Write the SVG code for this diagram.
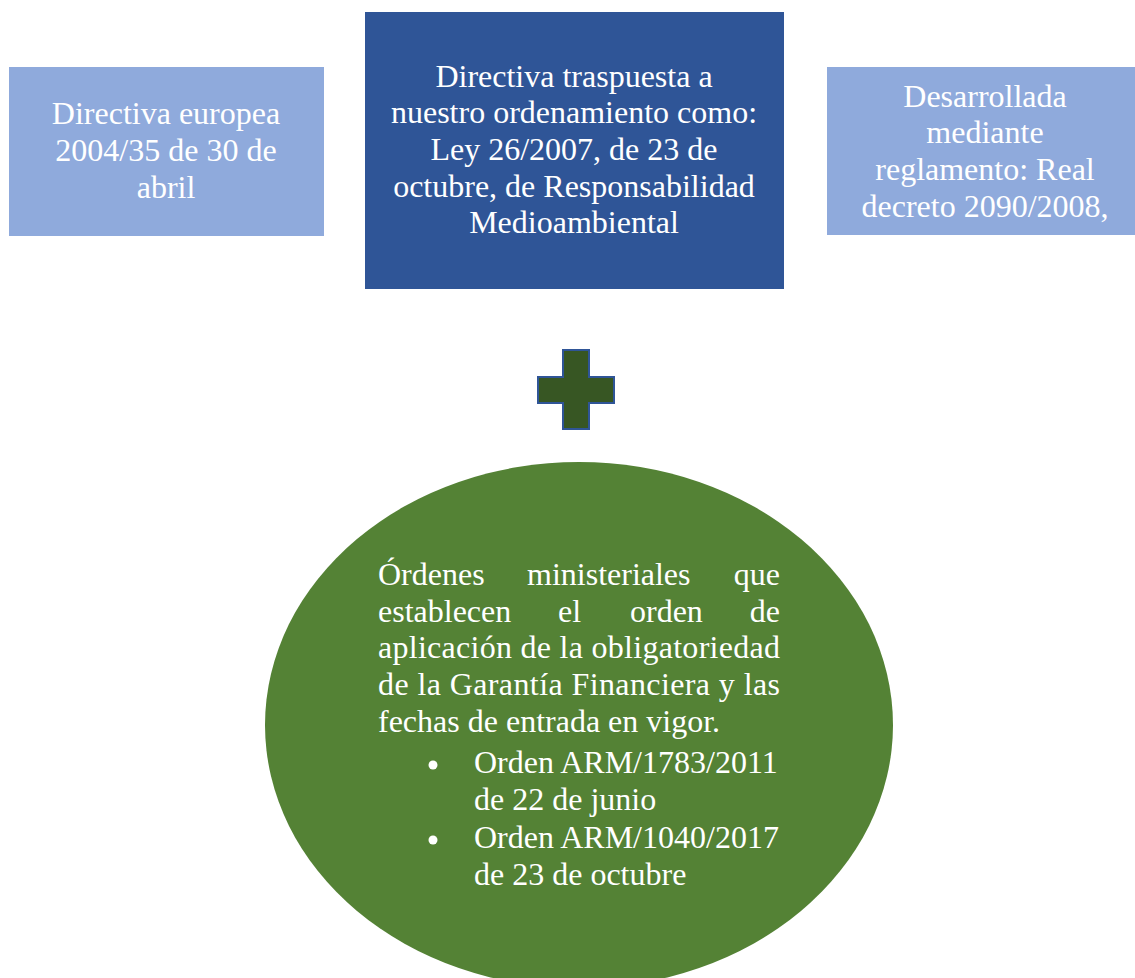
<svg xmlns="http://www.w3.org/2000/svg" width="1135" height="978" viewBox="0 0 1135 978">
<style>
.t{font-family:"Liberation Serif","Times New Roman",serif;font-size:32px;fill:#ffffff}
.c{text-anchor:middle}
.e{text-anchor:end}
</style>
<rect width="1135" height="978" fill="#ffffff"/>
<g id="node-directiva">
<rect x="9" y="67" width="315" height="169" fill="#8FAADC"/>
<text class="t c" x="166" y="124">Directiva europea</text>
<text class="t c" x="166" y="161">2004/35 de 30 de</text>
<text class="t c" x="166" y="198">abril</text>
</g>
<g id="node-ley">
<rect x="365" y="12" width="419" height="277" fill="#2F5597"/>
<text class="t c" x="574" y="87">Directiva traspuesta a</text>
<text class="t c" x="574" y="123">nuestro ordenamiento como:</text>
<text class="t c" x="574" y="160">Ley 26/2007, de 23 de</text>
<text class="t c" x="574" y="197">octubre, de Responsabilidad</text>
<text class="t c" x="574" y="233">Medioambiental</text>
</g>
<g id="node-real-decreto">
<rect x="827" y="67" width="308" height="168" fill="#8FAADC"/>
<text class="t c" x="985" y="107">Desarrollada</text>
<text class="t c" x="985" y="143">mediante</text>
<text class="t c" x="985" y="180">reglamento: Real</text>
<text class="t c" x="985" y="217">decreto 2090/2008,</text>
</g>
<g id="node-plus">
<path d="M563,350 H589 V377 H614 V403 H589 V429 H563 V403 H538 V377 H563 Z" fill="#375623" stroke="#2F5597" stroke-width="2"/>
</g>
<g id="node-ordenes">
<ellipse cx="579" cy="725" rx="314" ry="263" fill="#548235"/>
<text class="t" x="378" y="585">Órdenes</text>
<text class="t" x="527" y="585">ministeriales</text>
<text class="t e" x="780" y="585">que</text>
<text class="t" x="378" y="622">establecen</text>
<text class="t" x="558" y="622">el</text>
<text class="t" x="630" y="622">orden</text>
<text class="t e" x="780" y="622">de</text>
<text class="t" x="378" y="658" textLength="402" lengthAdjust="spacing">aplicación de la obligatoriedad</text>
<text class="t" x="378" y="695" textLength="402" lengthAdjust="spacing">de la Garantía Financiera y las</text>
<text class="t" x="378" y="732">fechas de entrada en vigor.</text>
<circle cx="433" cy="765" r="4.5" fill="#ffffff"/>
<text class="t" x="474" y="773">Orden ARM/1783/2011</text>
<text class="t" x="474" y="810">de 22 de junio</text>
<circle cx="433" cy="840" r="4.5" fill="#ffffff"/>
<text class="t" x="474" y="848">Orden ARM/1040/2017</text>
<text class="t" x="474" y="885">de 23 de octubre</text>
</g>
</svg>
